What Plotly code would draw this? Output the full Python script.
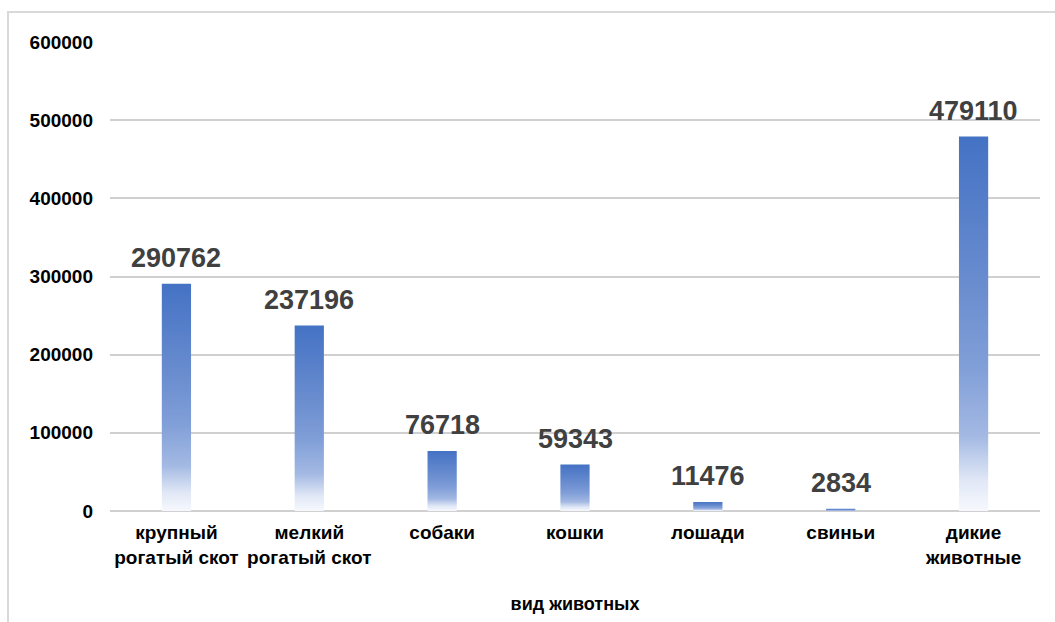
import plotly.graph_objects as go

categories = ["крупный<br>рогатый скот", "мелкий<br>рогатый скот", "собаки", "кошки",
              "лошади", "свиньи", "дикие<br>животные"]
values = [290762, 237196, 76718, 59343, 11476, 2834, 479110]
y_ticks = [0, 100000, 200000, 300000, 400000, 500000, 600000]
x_title = "вид животных"

BAR_W = 0.22
grad = [[0.0, "#f6f8fd"], [0.08, "#e1e8f6"], [0.2, "#a3b9e3"], [0.38, "#819fd8"],
        [0.6, "#6a8dcf"], [1.0, "#4472C4"]]

fig = go.Figure()
for i, v in enumerate(values):
    fig.add_trace(go.Scatter(
        x=[i - BAR_W / 2, i + BAR_W / 2, i + BAR_W / 2, i - BAR_W / 2, i - BAR_W / 2],
        y=[0, 0, v, v, 0],
        mode="none", fill="toself",
        fillgradient=dict(type="vertical", colorscale=grad),
        hoverinfo="skip", showlegend=False,
    ))

annotations = [
    dict(x=i, y=v, xref="x", yref="y", text=str(v), showarrow=False,
         yanchor="bottom", yshift=9,
         font=dict(family="Liberation Sans, Arial", size=27, color="#404040", weight="bold"))
    for i, v in enumerate(values)
]

fig.update_layout(
    width=1055, height=622,
    margin=dict(l=110, r=15, t=42, b=111),
    paper_bgcolor="white", plot_bgcolor="white",
    font=dict(family="Liberation Sans, Arial", color="black"),
    annotations=annotations,
    xaxis=dict(
        range=[-0.5, len(values) - 0.5],
        tickvals=list(range(len(values))), ticktext=categories,
        showgrid=False, zeroline=False, showline=False,
        tickfont=dict(size=19, weight="bold", color="black"),
        ticklabelstandoff=8,
        title=dict(text=x_title, font=dict(size=18, weight="bold", color="black"), standoff=30),
        fixedrange=True,
    ),
    yaxis=dict(
        range=[0, 600000], tickvals=y_ticks, ticktext=[str(t) for t in y_ticks],
        showgrid=True, gridcolor="#d0d0d0", gridwidth=1.5,
        zeroline=True, zerolinecolor="#d0d0d0", zerolinewidth=1.5,
        showline=False,
        tickfont=dict(size=19, weight="bold", color="black"),
        ticklabelstandoff=16,
        fixedrange=True,
    ),
    shapes=[dict(type="rect", xref="paper", yref="paper",
                 x0=(8 - 110) / 930, x1=1.1, y0=-0.5, y1=(511 - 12) / 469,
                 line=dict(color="#d9d9d9", width=2), layer="below")],
)

fig.write_html("out.html")
